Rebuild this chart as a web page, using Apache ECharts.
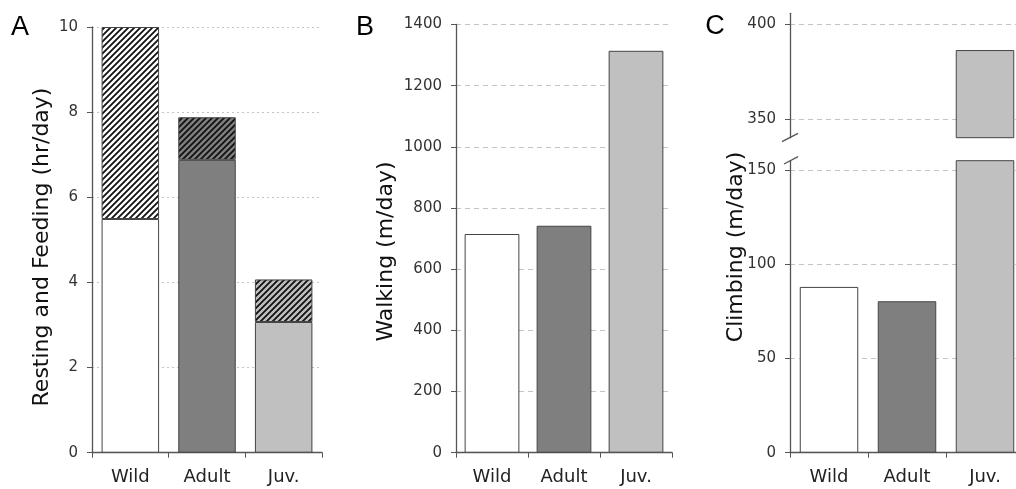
<!DOCTYPE html>
<html>
<head>
<meta charset="utf-8">
<script src="https://cdn.jsdelivr.net/npm/echarts@6/dist/echarts.min.js"></script>
<style>
  html, body { margin: 0; background: #fff; }
  #chart { width: 1016px; height: 489px; }
</style>
</head>
<body>
<div id="chart"></div>
<script>
// data
const categories = ['Wild', 'Adult', 'Juv.']
const restHours = [5.49, 6.88, 3.07]   // solid lower part (hr/day)
const feedHours = [4.51, 1.0, 1.0]     // hatched upper part (hr/day)
const walking = [715, 742, 1314]       // m/day
const climbing = [88, 80.4, 386.5]     // m/day
const climbLowTicks = [0, 50, 100, 150]
const climbHighTicks = [350, 400]

const fills = ['#ffffff', '#7f7f7f', '#c0c0c0']
const axisColor = '#555'
const tickFont = 'DejaVu Sans'

// diagonal hatch tile drawn on a small canvas
function hatch (bg) {
  const s = 6
  const c = document.createElement('canvas')
  c.width = s
  c.height = s
  const g = c.getContext('2d')
  g.fillStyle = bg
  g.fillRect(0, 0, s, s)
  g.strokeStyle = '#111'
  g.lineWidth = 1.8
  g.beginPath()
  g.moveTo(-1, s + 1); g.lineTo(s + 1, -1)
  g.moveTo(-1, 1); g.lineTo(1, -1)
  g.moveTo(s - 1, s + 1); g.lineTo(s + 1, s - 1)
  g.stroke()
  return { image: c, repeat: 'repeat' }
}

function catAxis (gridIndex, show) {
  return {
    type: 'category',
    gridIndex: gridIndex,
    data: categories,
    show: show,
    axisLine: { show: true, lineStyle: { color: axisColor, width: 1.3 } },
    axisTick: { show: true, length: 5, lineStyle: { color: axisColor } },
    axisLabel: { color: '#222', fontSize: 18, fontFamily: tickFont, margin: 16 },
    splitLine: { show: false }
  }
}

function valAxis (gridIndex, extra, dash) {
  return Object.assign({
    type: 'value',
    gridIndex: gridIndex,
    axisLine: { show: true, lineStyle: { color: axisColor, width: 1.3 } },
    axisTick: { show: true, length: 5, lineStyle: { color: axisColor } },
    axisLabel: {
      color: '#333',
      fontSize: 15,
      fontFamily: tickFont,
      margin: 14,
      formatter: v => String(v) // no thousands separator
    },
    splitLine: { show: true, lineStyle: { color: '#c4c4c4', type: dash } }
  }, extra)
}

const border = { borderColor: '#444', borderWidth: 1 }

function colored (values, colorOf) {
  return values.map((v, i) => ({ value: v, itemStyle: Object.assign({ color: colorOf(i) }, border) }))
}

const chart = echarts.init(document.getElementById('chart'), null, { renderer: 'canvas' })

const option = {
  animation: false,
  backgroundColor: '#fff',
  grid: [
    { left: 92, top: 27, width: 230, height: 425.7, outerBoundsMode: 'none' },
    { left: 456, top: 24.5, width: 216, height: 428.2, outerBoundsMode: 'none' },
    { left: 790, top: 13.3, width: 234, height: 124.4, outerBoundsMode: 'none' },
    { left: 790, top: 160.7, width: 234, height: 292, outerBoundsMode: 'none' }
  ],
  xAxis: [
    catAxis(0, true),
    catAxis(1, true),
    catAxis(2, false),
    catAxis(3, true)
  ],
  yAxis: [
    valAxis(0, { min: 0, max: 10, interval: 2 }, [2, 3]),
    valAxis(1, { min: 0, max: 1400, interval: 200 }, [5, 4]),
    valAxis(2, { min: 340, max: 406 }, [5, 4]),
    valAxis(3, { min: 0, max: 155 }, [5, 4])
  ],
  series: [
    {
      name: 'Resting', type: 'bar', stack: 'A', xAxisIndex: 0, yAxisIndex: 0,
      barCategoryGap: '25%', data: colored(restHours, i => fills[i])
    },
    {
      name: 'Feeding', type: 'bar', stack: 'A', xAxisIndex: 0, yAxisIndex: 0,
      barCategoryGap: '25%', data: colored(feedHours, i => hatch(fills[i]))
    },
    {
      name: 'Walking', type: 'bar', xAxisIndex: 1, yAxisIndex: 1,
      barCategoryGap: '24%', data: colored(walking, i => fills[i])
    },
    {
      name: 'Climbing', type: 'bar', xAxisIndex: 2, yAxisIndex: 2,
      barCategoryGap: '25%', data: colored(climbing, i => fills[i])
    },
    {
      name: 'Climbing', type: 'bar', xAxisIndex: 3, yAxisIndex: 3,
      barCategoryGap: '25%', data: colored(climbing, i => fills[i])
    }
  ]
}

// custom tick positions on the broken axis of panel C
option.yAxis[2].axisLabel.customValues = climbHighTicks
option.yAxis[2].axisTick.customValues = climbHighTicks
option.yAxis[3].axisLabel.customValues = climbLowTicks
option.yAxis[3].axisTick.customValues = climbLowTicks

const titleFont = '22px "DejaVu Sans"'
const letterFont = '27px "Liberation Sans"'
option.graphic = [
  { type: 'text', x: 20, y: 28, style: { text: 'A', font: letterFont, fill: '#000', align: 'center', verticalAlign: 'middle' } },
  { type: 'text', x: 365, y: 28, style: { text: 'B', font: letterFont, fill: '#000', align: 'center', verticalAlign: 'middle' } },
  { type: 'text', x: 715, y: 27, style: { text: 'C', font: letterFont, fill: '#000', align: 'center', verticalAlign: 'middle' } },
  { type: 'text', x: 42, y: 247, rotation: Math.PI / 2, style: { text: 'Resting and Feeding (hr/day)', font: titleFont, fill: '#111', align: 'center', verticalAlign: 'middle' } },
  { type: 'text', x: 386.5, y: 251.5, rotation: Math.PI / 2, style: { text: 'Walking (m/day)', font: titleFont, fill: '#111', align: 'center', verticalAlign: 'middle' } },
  { type: 'text', x: 736, y: 247, rotation: Math.PI / 2, style: { text: 'Climbing (m/day)', font: titleFont, fill: '#111', align: 'center', verticalAlign: 'middle' } },
  // axis break marks
  { type: 'line', shape: { x1: 782, y1: 141.7, x2: 798, y2: 133.3 }, style: { stroke: axisColor, lineWidth: 1.3 } },
  { type: 'line', shape: { x1: 784, y1: 164, x2: 798, y2: 156.7 }, style: { stroke: axisColor, lineWidth: 1.3 } }
]

chart.setOption(option)
</script>
</body>
</html>
